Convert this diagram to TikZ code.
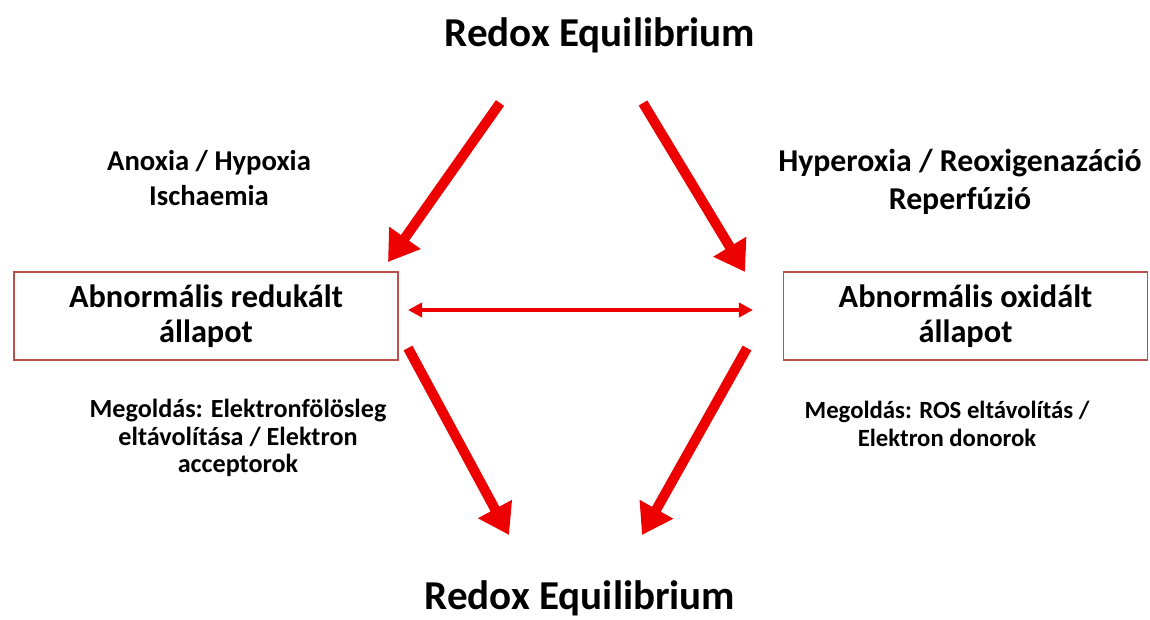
\documentclass[tikz,border=0pt]{standalone}
\usepackage{fontspec}
\setmainfont{Carlito}
\usetikzlibrary{arrows.meta,positioning}
\definecolor{arrred}{RGB}{236,0,0}
\definecolor{boxred}{RGB}{188,78,76}

\begin{document}
\begin{tikzpicture}[x=0.025cm,y=-0.025cm,
   title/.style={anchor=base,font=\fontsize{29.2}{34}\selectfont\bfseries},
   lbl/.style={align=center,font=\fontsize{20.4}{25.5}\selectfont\bfseries},
   note/.style={align=center,font=\fontsize{18.3}{19.4}\selectfont\bfseries},
   state/.style={draw=boxred,line width=0.9pt,align=center,minimum height=2.2cm,
      font=\fontsize{23}{24.5}\selectfont\bfseries},
   bigarr/.style={draw=arrred,line width=7.1pt,-{Triangle[width=26pt,length=21pt]}},
   dblarr/.style={draw=arrred,line width=2.6pt,{Triangle[width=10pt,length=10pt]}-{Triangle[width=10pt,length=10pt]}}]
  \useasboundingbox (0,0) rectangle (1150,619);
  % titles
  \node[title] (top) at (600,46) {Redox Equilibrium};
  \node[title] (bot) at (580,609) {Redox Equilibrium};
  % states
  \node[state,minimum width=9.6cm] (red) at (206,316) {Abnormális redukált\\állapot};
  \node[state,minimum width=9.1cm] (ox) at (965.5,316) {Abnormális oxidált\\állapot};
  % causes
  \node[lbl] (causeL) at (209,178) {Anoxia / Hypoxia\\Ischaemia};
  \node[lbl,font=\fontsize{22.6}{27.5}\selectfont\bfseries] (causeR) at (960,182) {Hyperoxia / Reoxigenazáció\\Reperfúzió};
  % solutions
  \node[note,font=\fontsize{18.6}{19.4}\selectfont\bfseries] (solL) at (238,438) {Megoldás: Elektronfölösleg\\eltávolítása / Elektron\\acceptorok};
  \node[note,font=\fontsize{17.6}{19.4}\selectfont\bfseries] (solR) at (947,424) {Megoldás: ROS eltávolítás /\\Elektron donorok};
  % arrow ends
  \coordinate (a1) at (500,103);
  \coordinate (b1) at (388,262);
  \coordinate (a2) at (643,103);
  \coordinate (b2) at (745,272);
  \coordinate (a3) at (408,348);
  \coordinate (b3) at (509,535);
  \coordinate (a4) at (747,348);
  \coordinate (b4) at (642,535);
  \coordinate (d1) at (408,310);
  \coordinate (d2) at (753,310);
  % arrows
  \draw[bigarr] (a1) -- (b1);
  \draw[bigarr] (a2) -- (b2);
  \draw[bigarr] (a3) -- (b3);
  \draw[bigarr] (a4) -- (b4);
  \draw[dblarr] (d1) -- (d2);
\end{tikzpicture}
\end{document}
